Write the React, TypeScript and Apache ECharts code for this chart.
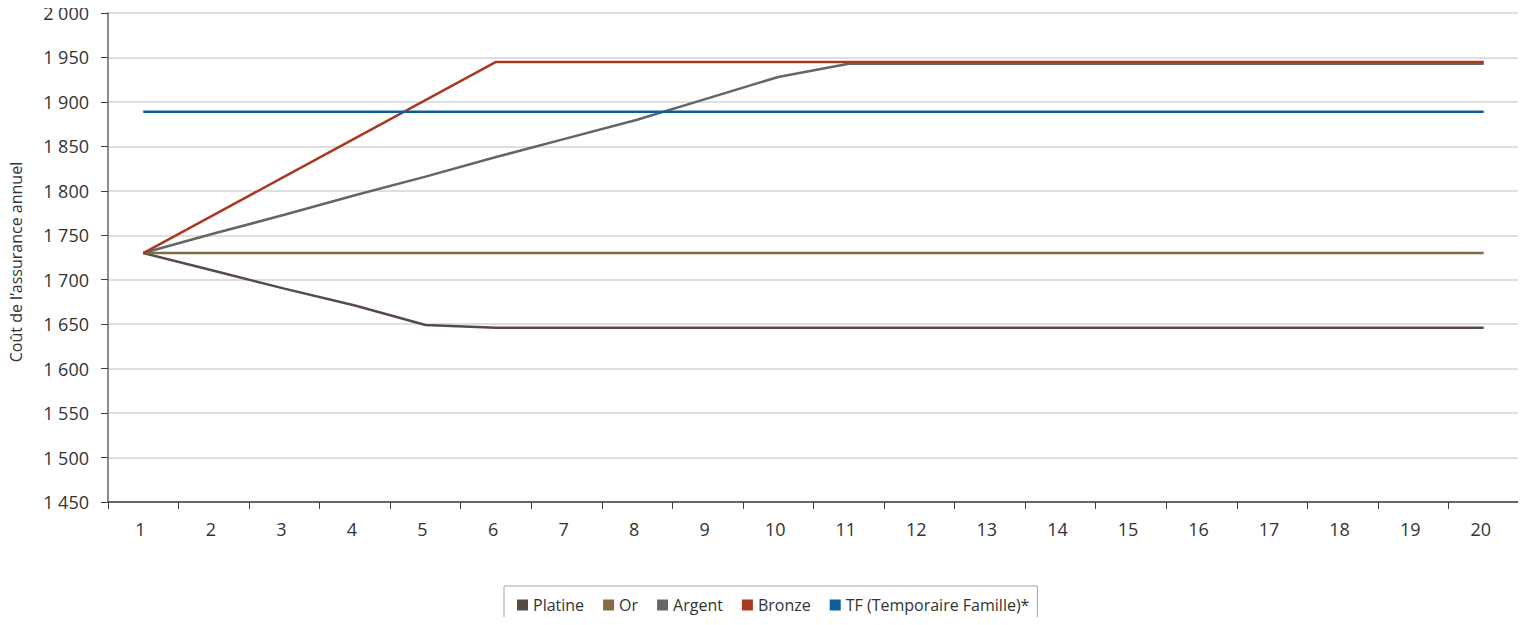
import React, { useEffect, useRef } from "react";
import * as echarts from "echarts";

const categories = ["1","2","3","4","5","6","7","8","9","10","11","12","13","14","15","16","17","18","19","20"];
const platine = [1730,1710,1690,1671,1649,1646,1646,1646,1646,1646,1646,1646,1646,1646,1646,1646,1646,1646,1646,1646];
const or = [1730,1730,1730,1730,1730,1730,1730,1730,1730,1730,1730,1730,1730,1730,1730,1730,1730,1730,1730,1730];
const argent = [1730,1752,1773,1795,1816,1838,1859,1880,1904,1928,1943,1943,1943,1943,1943,1943,1943,1943,1943,1943];
const bronze = [1730,1773,1816,1859,1902,1945,1945,1945,1945,1945,1945,1945,1945,1945,1945,1945,1945,1945,1945,1945];
const tf = [1889,1889,1889,1889,1889,1889,1889,1889,1889,1889,1889,1889,1889,1889,1889,1889,1889,1889,1889,1889];
const seriesNames = ["Platine","Or","Argent","Bronze","TF (Temporaire Famille)*"];
const colors = ["#584a45","#826c46","#62666a","#a83a22","#0e5f99"];
const yAxisTitle = "Coût de l’assurance annuel";

const FONT = "'Open Sans', sans-serif";

export default function App() {
  const ref = useRef<HTMLDivElement>(null);
  useEffect(() => {
    if (!ref.current) return;
    const chart = echarts.init(ref.current, undefined, { renderer: "svg" });
    const data = [platine, or, argent, bronze, tf];
    chart.setOption({
      animation: false,
      textStyle: { fontFamily: FONT },
      grid: { left: 108, right: 7, top: 13, bottom: 123, containLabel: false },
      legend: {
        top: 586,
        left: 504,
        data: seriesNames,
        icon: "rect",
        itemWidth: 11,
        itemHeight: 11,
        itemGap: 19,
        borderColor: "#a6a6a6",
        borderWidth: 1,
        padding: [11, 8, 30, 13],
        textStyle: { fontSize: 16, color: "#333", fontFamily: FONT },
      },
      xAxis: {
        type: "category",
        data: categories,
        boundaryGap: true,
        axisLine: { lineStyle: { color: "#404040", width: 1.5 } },
        axisTick: { show: true, length: 7, lineStyle: { color: "#404040" } },
        axisLabel: { fontSize: 18, color: "#333", margin: 18, fontFamily: FONT, padding: [0, 6, 0, 0] },
      },
      yAxis: {
        type: "value",
        min: 1450,
        max: 2000,
        interval: 50,
        axisLine: { show: true, lineStyle: { color: "#8c8c8c", width: 2 } },
        axisTick: { show: true, length: 7, lineStyle: { color: "#404040" } },
        axisLabel: {
          fontSize: 18,
          color: "#333",
          margin: 19,
          fontFamily: FONT,
          formatter: (v: number) => {
            const s = String(Math.round(v));
            return s.length > 3 ? s.slice(0, s.length - 3) + " " + s.slice(-3) : s;
          },
        },
        splitLine: { show: true, lineStyle: { color: "#d4d4d4", width: 1.5 } },
      },
      graphic: [
        {
          type: "text",
          x: 8,
          y: 262,
          rotation: Math.PI / 2,
          style: {
            text: yAxisTitle,
            fontSize: 16,
            fontFamily: FONT,
            fill: "#333",
            align: "center",
            verticalAlign: "top",
          },
        },
      ],
      series: seriesNames.map((name, i) => ({
        name,
        type: "line",
        data: data[i],
        symbol: "none",
        lineStyle: { color: colors[i], width: 2.5 },
        itemStyle: { color: colors[i] },
      })),
    });
    return () => chart.dispose();
  }, []);
  return <div ref={ref} style={{ width: 1526, height: 625, margin: -8 }} />;
}
